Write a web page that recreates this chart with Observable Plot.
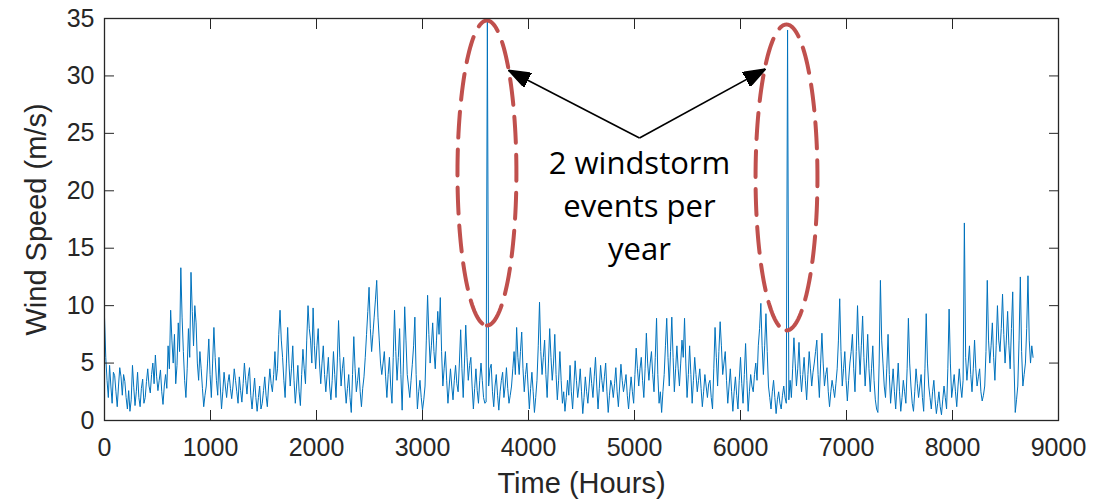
<!DOCTYPE html>
<html><head><meta charset="utf-8">
<script src="https://cdn.jsdelivr.net/npm/d3@7"></script>
<script src="https://cdn.jsdelivr.net/npm/@observablehq/plot@0.6"></script>
<style>
html,body{margin:0;padding:0;background:#fff;}
#chart{width:1108px;height:499px;overflow:hidden;}
</style></head><body><div id="chart"></div>
<script>
// Wind speed every 12 hours, m/s
const HOUR_STEP = 12;
const windSpeed = [
  9.0, 5.5, 3.5, 2.0, 4.8, 3.0, 1.5, 4.2, 3.9, 2.5, 1.2, 3.0, 4.6, 3.8, 2.2, 4.0, 3.4, 2.0, 1.0, 2.6,
  0.8, 1.8, 4.8, 2.9, 1.3, 2.5, 4.2, 2.0, 1.2, 2.8, 3.6, 1.5, 2.0, 3.4, 4.5, 3.0, 2.4, 4.0, 5.0, 3.2,
  5.7, 3.8, 2.6, 3.5, 4.4, 2.5, 1.4, 3.0, 4.0, 2.8, 6.5, 4.5, 9.6, 7.0, 5.0, 7.5, 3.2, 4.8, 8.5, 6.0,
  13.3, 9.0, 6.0, 3.5, 2.0, 4.5, 8.0, 5.5, 12.9, 9.5, 6.5, 10.0, 8.5, 5.0, 3.5, 6.0, 4.5, 2.8, 1.2, 2.2,
  3.0, 5.0, 7.1, 4.0, 2.0, 5.0, 8.1, 5.5, 3.5, 2.2, 5.5, 3.0, 1.0, 2.5, 4.2, 3.0, 2.0, 3.3, 4.0, 2.8,
  1.9, 3.0, 4.5, 3.5, 2.5, 1.5, 3.8, 2.6, 1.6, 3.2, 5.0, 3.5, 2.3, 3.8, 4.6, 2.2, 1.0, 2.4, 3.7, 2.0,
  0.8, 2.0, 3.0, 1.0, 1.5, 2.6, 3.8, 2.2, 1.2, 3.0, 4.5, 3.2, 2.5, 4.0, 6.0, 3.5, 4.5, 7.5, 9.6, 7.0,
  5.5, 3.5, 2.0, 5.0, 8.1, 5.0, 3.0, 4.5, 6.5, 3.5, 1.5, 3.0, 4.8, 2.5, 1.3, 4.0, 6.2, 4.5, 3.2, 7.0,
  10.0, 8.0, 7.0, 5.0, 9.8, 6.5, 4.5, 6.5, 8.0, 5.0, 3.2, 5.0, 6.5, 4.0, 2.5, 4.0, 5.5, 3.0, 1.8, 3.5,
  6.0, 4.0, 2.0, 5.0, 8.7, 5.5, 3.0, 4.5, 5.5, 3.0, 1.5, 2.8, 4.0, 2.0, 0.7, 4.0, 7.3, 4.5, 2.5, 3.5,
  4.6, 2.5, 1.2, 2.8, 3.8, 5.5, 7.5, 9.5, 11.6, 8.0, 6.0, 7.5, 9.0, 10.5, 12.2, 9.0, 7.0, 5.0, 4.0, 5.0,
  6.0, 3.8, 2.0, 4.0, 5.5, 3.0, 1.5, 5.5, 9.6, 6.0, 3.5, 5.5, 8.0, 4.0, 0.9, 5.0, 9.9, 7.0, 4.0, 3.0,
  2.0, 3.5, 4.9, 6.5, 9.0, 4.0, 1.0, 2.5, 3.5, 2.0, 0.9, 1.8, 3.0, 7.0, 10.9, 7.5, 5.0, 6.5, 8.5, 6.0,
  4.5, 7.0, 9.5, 7.5, 10.7, 6.0, 3.0, 4.5, 6.0, 3.5, 1.5, 3.0, 4.5, 3.0, 1.8, 3.5, 4.8, 3.2, 2.5, 5.0,
  7.9, 4.5, 2.0, 5.0, 8.3, 5.5, 3.5, 4.8, 5.5, 3.0, 1.0, 2.8, 4.5, 2.6, 1.5, 3.5, 5.0, 3.5, 2.0, 1.5,
  1.6, 34.8, 3.0, 4.5, 4.9, 2.5, 1.2, 3.0, 4.0, 2.2, 0.9, 2.5, 3.5, 4.2, 2.0, 3.0, 4.6, 2.8, 1.5, 2.2,
  3.0, 4.5, 6.0, 4.0, 8.1, 5.5, 4.0, 6.0, 7.7, 4.5, 2.5, 4.0, 5.0, 3.0, 1.0, 2.8, 4.2, 2.5, 0.7, 2.0,
  3.5, 6.5, 10.3, 6.0, 4.0, 5.5, 7.0, 4.0, 2.0, 5.0, 8.0, 5.5, 3.5, 5.0, 7.5, 4.0, 1.8, 3.5, 6.0, 3.5,
  1.5, 2.5, 0.8, 2.0, 3.5, 2.2, 4.8, 2.5, 1.0, 3.0, 5.2, 3.5, 2.0, 3.0, 4.5, 2.5, 0.6, 2.0, 3.8, 2.5,
  1.5, 3.0, 4.6, 3.2, 2.0, 3.8, 5.5, 3.0, 1.0, 2.8, 4.8, 3.5, 2.5, 3.8, 5.0, 2.5, 0.7, 2.2, 3.5, 3.0,
  2.0, 3.2, 4.6, 2.5, 1.2, 3.0, 4.9, 3.5, 2.5, 3.2, 4.0, 2.2, 1.0, 2.5, 3.8, 2.5, 1.5, 4.0, 6.3, 4.5,
  3.0, 4.5, 5.5, 3.5, 2.0, 4.5, 7.6, 5.0, 3.5, 5.0, 6.0, 4.0, 2.5, 5.5, 8.9, 4.0, 1.5, 2.5, 0.7, 2.5,
  4.0, 6.5, 8.9, 5.5, 3.0, 6.0, 9.0, 5.5, 2.5, 4.5, 6.5, 4.5, 3.0, 5.0, 7.0, 5.5, 8.9, 5.0, 2.0, 4.0,
  6.5, 4.0, 1.5, 3.5, 5.5, 4.0, 2.5, 3.5, 4.5, 2.8, 1.2, 2.5, 4.0, 3.0, 2.0, 3.2, 3.5, 2.0, 1.0, 4.5,
  8.1, 5.5, 3.0, 6.0, 8.6, 6.5, 4.0, 5.0, 6.0, 3.5, 1.5, 3.0, 4.5, 2.5, 0.8, 2.5, 3.8, 2.2, 1.0, 3.5,
  5.5, 3.2, 1.5, 4.0, 6.7, 3.5, 0.8, 2.5, 4.0, 3.0, 2.5, 4.0, 5.0, 3.5, 6.5, 8.0, 10.2, 6.5, 4.0, 6.5,
  9.3, 6.0, 3.0, 2.0, 1.0, 2.5, 3.5, 2.0, 0.6, 1.8, 2.5, 1.5, 1.0, 2.2, 3.0, 2.0, 1.5, 34.0, 1.8, 3.5,
  2.0, 4.5, 7.2, 5.0, 3.0, 4.5, 6.8, 4.0, 2.5, 4.0, 5.5, 3.5, 1.8, 4.0, 6.0, 4.5, 3.0, 4.2, 5.0, 6.0,
  7.0, 4.0, 2.0, 5.0, 7.6, 5.0, 3.0, 4.0, 4.6, 2.5, 1.2, 2.5, 3.5, 2.8, 2.0, 3.2, 4.5, 7.0, 10.6, 6.0,
  3.0, 4.5, 6.0, 3.5, 1.7, 3.5, 5.0, 6.0, 7.5, 4.5, 2.5, 6.0, 10.0, 6.5, 4.0, 6.5, 9.1, 5.5, 3.0, 5.0,
  7.5, 4.5, 2.5, 4.5, 6.5, 3.5, 1.8, 1.0, 0.7, 5.0, 12.2, 7.0, 5.0, 3.0, 2.0, 4.5, 7.5, 4.0, 1.5, 3.0,
  4.5, 2.5, 1.0, 3.0, 5.0, 2.5, 0.8, 2.0, 3.5, 2.5, 1.5, 4.5, 8.9, 5.0, 3.0, 1.5, 0.8, 2.5, 4.5, 3.2,
  2.0, 3.0, 4.0, 2.0, 0.8, 4.5, 9.3, 5.0, 3.0, 2.0, 1.0, 2.5, 3.5, 1.8, 0.6, 1.5, 2.5, 1.2, 0.5, 1.8,
  3.0, 2.0, 1.0, 4.5, 9.7, 5.0, 2.0, 3.0, 4.0, 2.5, 1.2, 3.0, 4.5, 3.0, 2.0, 3.5, 17.2, 5.5, 3.5, 5.0,
  6.5, 4.0, 2.5, 4.5, 7.0, 4.5, 3.0, 3.8, 4.5, 2.5, 1.7, 2.2, 3.0, 6.0, 12.2, 7.0, 5.0, 6.5, 8.5, 5.5,
  3.5, 6.5, 10.0, 7.0, 6.0, 8.0, 11.0, 7.5, 5.0, 7.0, 9.5, 6.5, 4.5, 8.0, 11.2, 5.0, 0.7, 1.8, 3.0, 7.0,
  12.5, 6.0, 3.0, 4.0, 5.0, 8.0, 12.6, 7.0, 5.0, 6.5, 5.5
];

const xTicks = [0, 1000, 2000, 3000, 4000, 5000, 6000, 7000, 8000, 9000];
const yTicks = [0, 5, 10, 15, 20, 25, 30, 35];
const xLabel = "Time (Hours)";
const yLabel = "Wind Speed (m/s)";

// Annotation (data units)
const noteLines = ["2 windstorm", "events per", "year"];
const notePos = [{hour: 5047, speed: 18.9}];
const arrowStart = {hour: 5047, speed: 24.6};
const arrowTips = [{hour: 3811, speed: 30.5}, {hour: 6236, speed: 30.6}];
const stormEllipses = [
  {hour: 3608, speed: 21.55, rxHours: 278, rySpeed: 13.28},
  {hour: 6434, speed: 21.16, rxHours: 292, rySpeed: 13.32}
];

const series = windSpeed.map((v, i) => ({hour: i * HOUR_STEP, speed: v}));
const ellipsePts = stormEllipses.flatMap((e, k) =>
  d3.range(0, 145).map(i => {
    const t = -Math.PI / 2 + i / 144 * 2 * Math.PI;
    return {k, hour: e.hour + e.rxHours * Math.cos(t), speed: e.speed + e.rySpeed * Math.sin(t)};
  })
);

function filledArrow(color, context) {
  const m = d3.create("svg:marker")
    .attr("viewBox", "-22 -8 22 16")
    .attr("markerWidth", 22).attr("markerHeight", 16)
    .attr("markerUnits", "userSpaceOnUse")
    .attr("refX", 0).attr("refY", 0)
    .attr("orient", "auto");
  m.append("path").attr("fill", "black").attr("d", "M0,0L-22,-8L-22,8Z");
  return m.node();
}

const font = "'Liberation Sans', Arial, sans-serif";
const ink = "#262626";

const chart = Plot.plot({
  width: 1108, height: 499,
  marginLeft: 104, marginRight: 50, marginTop: 18, marginBottom: 79,
  style: {fontFamily: font, fontSize: "25px", color: ink, background: "#fff"},
  x: {domain: [0, 9000], axis: null},
  y: {domain: [0, 35], axis: null},
  marks: [
    Plot.line(series, {x: "hour", y: "speed", stroke: "#0072BD", strokeWidth: 1}),
    Plot.line(ellipsePts, {x: "hour", y: "speed", z: "k", stroke: "#C0504D", strokeWidth: 4, strokeDasharray: "26,12", strokeLinecap: "round"}),
    Plot.link(arrowTips, {x1: () => arrowStart.hour, y1: () => arrowStart.speed, x2: "hour", y2: "speed", stroke: "black", strokeWidth: 1.6, markerEnd: filledArrow}),
    Plot.text(notePos, {x: "hour", y: "speed", text: () => noteLines.join("\n"), lineHeight: 1.39, fontSize: 31, fontFamily: "'Open Sans', sans-serif", fill: "black"}),
    Plot.frame({stroke: ink, strokeWidth: 1.3}),
    Plot.axisX(xTicks, {anchor: "bottom", tickSize: -10, tickPadding: 28, tickFormat: d => String(d), label: null, stroke: ink, fill: ink}),
    Plot.axisX(xTicks, {anchor: "top", tickSize: -10, tickFormat: () => "", label: null, stroke: ink}),
    Plot.axisY(yTicks, {anchor: "left", tickSize: -10, tickPadding: 20, tickFormat: d => String(d), label: null, stroke: ink, fill: ink}),
    Plot.axisY(yTicks, {anchor: "right", tickSize: -10, tickFormat: () => "", label: null, stroke: ink}),
    Plot.text([xLabel], {text: d => d, frameAnchor: "bottom", lineAnchor: "middle", textAnchor: "middle", dy: 63, fontSize: 29, fill: ink}),
    Plot.text([yLabel], {text: d => d, frameAnchor: "left", lineAnchor: "middle", textAnchor: "middle", rotate: -90, dx: -68, fontSize: 29, fill: ink})
  ]
});
document.getElementById("chart").append(chart);
</script>
</body></html>
